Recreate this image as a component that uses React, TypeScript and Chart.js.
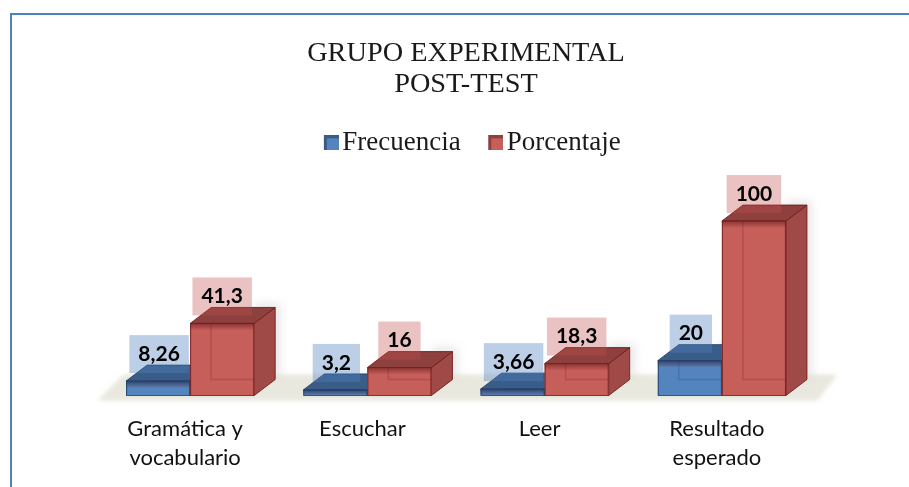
import React, { useEffect, useRef } from "react";
import { Chart, registerables } from "chart.js";

Chart.register(...registerables);

const categories = [["Gramática y", "vocabulario"], ["Escuchar"], ["Leer"], ["Resultado", "esperado"]];
const frecuencia = [8.26, 3.2, 3.66, 20];
const porcentaje = [41.3, 16, 18.3, 100];
const frecuenciaLabels = ["8,26", "3,2", "3,66", "20"];
const porcentajeLabels = ["41,3", "16", "18,3", "100"];
const titleLines = ["GRUPO EXPERIMENTAL", "POST-TEST"];

const DX = 21;
const DY = 16;
const palette = [
  { front: "rgb(84,132,190)", top: "rgb(58,92,136)", side: "rgb(62,100,150)", edge: "rgba(30,60,100,0.85)", box: "rgba(79,129,189,0.38)" },
  { front: "rgb(198,94,90)", top: "rgb(142,64,62)", side: "rgb(160,74,72)", edge: "rgba(110,25,25,0.85)", box: "rgba(192,80,77,0.35)" },
];

function marker(front: string, top: string) {
  const c = document.createElement("canvas");
  c.width = 21;
  c.height = 15;
  const g = c.getContext("2d")!;
  g.fillStyle = front;
  g.fillRect(6, 0, 15, 15);
  g.fillStyle = top;
  g.fillRect(6, 0, 15, 3);
  g.fillRect(6, 0, 3, 15);
  return c;
}

const floorPlugin = {
  id: "floor",
  afterLayout(chart: any) {
    chart.titleBlock.left += 10;
    chart.titleBlock.right += 10;
    chart.titleBlock.top -= 52.3;
    chart.titleBlock.bottom -= 52.3;
    chart.legend.left += 18.25;
    chart.legend.right += 18.25;
    chart.legend.top -= 54.8;
    chart.legend.bottom -= 54.8;
  },
  beforeDatasetsDraw(chart: any) {
    const { ctx, chartArea } = chart;
    const b = chartArea.bottom;
    ctx.save();
    ctx.filter = "blur(2px)";
    ctx.fillStyle = "rgb(232,232,222)";
    ctx.beginPath();
    ctx.moveTo(chartArea.left - 4, b + 5);
    ctx.lineTo(chartArea.left + 22, b - 21);
    ctx.lineTo(chartArea.right + 27, b - 21);
    ctx.lineTo(chartArea.right + 7, b + 5);
    ctx.closePath();
    ctx.fill();
    ctx.restore();

    ctx.save();
    [1, 0].forEach((d) => {
      chart.getDatasetMeta(d).data.forEach((bar: any) => {
        const l = bar.x - bar.width / 2;
        const r = bar.x + bar.width / 2;
        const p = palette[d];
        // soft shadow behind the box
        ctx.save();
        ctx.filter = "blur(5px)";
        ctx.fillStyle = "rgba(120,120,120,0.18)";
        ctx.fillRect(r, bar.y - DY - 4, DX + 5, bar.base - bar.y);
        ctx.restore();
        ctx.strokeStyle = p.edge;
        ctx.lineWidth = 1;
        ctx.fillStyle = p.side;
        ctx.beginPath();
        ctx.moveTo(r, bar.y);
        ctx.lineTo(r + DX, bar.y - DY);
        ctx.lineTo(r + DX, bar.base - DY);
        ctx.lineTo(r, bar.base);
        ctx.closePath();
        ctx.fill();
        ctx.stroke();
        ctx.fillStyle = p.top;
        ctx.beginPath();
        ctx.moveTo(l, bar.y);
        ctx.lineTo(l + DX, bar.y - DY);
        ctx.lineTo(r + DX, bar.y - DY);
        ctx.lineTo(r, bar.y);
        ctx.closePath();
        ctx.fill();
        ctx.stroke();
      });
    });
    ctx.restore();
  },
  afterDatasetsDraw(chart: any) {
    const { ctx } = chart;
    ctx.save();
    [0, 1].forEach((d) => {
      const labels = d === 0 ? frecuenciaLabels : porcentajeLabels;
      chart.getDatasetMeta(d).data.forEach((bar: any, i: number) => {
        const l = bar.x - bar.width / 2;
        const r = bar.x + bar.width / 2;
        const p = palette[d];
        // back edges seen through the translucent box
        ctx.strokeStyle = d === 0 ? "rgba(30,60,100,0.22)" : "rgba(110,25,25,0.22)";
        ctx.lineWidth = 1.5;
        ctx.beginPath();
        ctx.moveTo(l + DX, bar.y);
        ctx.lineTo(l + DX, Math.max(bar.y, bar.base - DY));
        ctx.lineTo(r, Math.max(bar.y, bar.base - DY));
        ctx.stroke();
        // dark band below the front top edge
        const h = Math.min(7, bar.base - bar.y);
        const g = ctx.createLinearGradient(0, bar.y, 0, bar.y + h);
        g.addColorStop(0, d === 0 ? "rgba(25,50,90,0.75)" : "rgba(100,25,25,0.6)");
        g.addColorStop(1, "rgba(100,25,25,0)");
        ctx.fillStyle = g;
        ctx.fillRect(l, bar.y, bar.width, h);
        // outline of the front face
        ctx.strokeStyle = p.edge;
        ctx.lineWidth = 1;
        ctx.strokeRect(l + 0.5, bar.y, bar.width - 1, bar.base - bar.y);

        // value label with its translucent plate
        ctx.font = "bold 21px Lato";
        const w = ctx.measureText(labels[i]).width;
        const cx = d === 0 ? bar.x + 1 : bar.x;
        const cy = bar.y - 27;
        ctx.fillStyle = p.box;
        ctx.fillRect(cx - w / 2 - 9, cy - 19, w + 18, 38);
        ctx.fillStyle = "#000";
        ctx.textAlign = "center";
        ctx.textBaseline = "middle";
        ctx.fillText(labels[i], cx, cy);
      });
    });
    ctx.restore();
  },
};

export default function App() {
  const ref = useRef<HTMLCanvasElement>(null);
  useEffect(() => {
    document.body.style.margin = "0";
    const chart = new Chart(ref.current!, {
      type: "bar",
      data: {
        labels: categories,
        datasets: [
          { label: "Frecuencia", data: frecuencia, backgroundColor: palette[0].front, pointStyle: marker(palette[0].front, palette[0].top) as any },
          { label: "Porcentaje", data: porcentaje, backgroundColor: palette[1].front, pointStyle: marker(palette[1].front, palette[1].top) as any },
        ],
      },
      plugins: [floorPlugin],
      options: {
        animation: false,
        responsive: false,
        layout: { padding: { left: 101.5, right: 98.5, top: 90.3, bottom: 4.2 } },
        datasets: { bar: { categoryPercentage: 0.723, barPercentage: 1 } },
        scales: {
          x: {
            grid: { display: false },
            border: { display: false },
            ticks: {
              color: "#111",
              maxRotation: 0,
              autoSkip: false,
              labelOffset: -5,
              padding: 10.6,
              font: { family: "Lato", size: 22, lineHeight: 1.32 },
            },
          },
          y: { display: false, min: 0, max: 100 },
        },
        plugins: {
          tooltip: { enabled: false },
          title: {
            display: true,
            text: titleLines,
            color: "#1a1a1a",
            padding: { top: 0, bottom: 0 },
            font: { family: "Liberation Serif", size: 28.3, weight: "normal", lineHeight: 1.1 },
          },
          legend: {
            display: true,
            labels: {
              usePointStyle: true,
              boxWidth: 1,
              padding: 31.5,
              color: "#1a1a1a",
              font: { family: "Liberation Serif", size: 27 },
            },
          },
        },
      },
    } as any);
    return () => chart.destroy();
  }, []);
  return (
    <div style={{ position: "absolute", left: 0, top: 0, width: 909, height: 487, background: "#fff", overflow: "hidden" }}>
      <div style={{ position: "absolute", left: 10, top: 13, right: 0, height: 2, background: "rgb(79,129,189)" }} />
      <div style={{ position: "absolute", left: 10, top: 13, bottom: 0, width: 2, background: "rgb(79,129,189)" }} />
      <canvas ref={ref} width={909} height={487} style={{ position: "absolute", left: 0, top: 0, filter: "blur(0.4px)" }} />
    </div>
  );
}
